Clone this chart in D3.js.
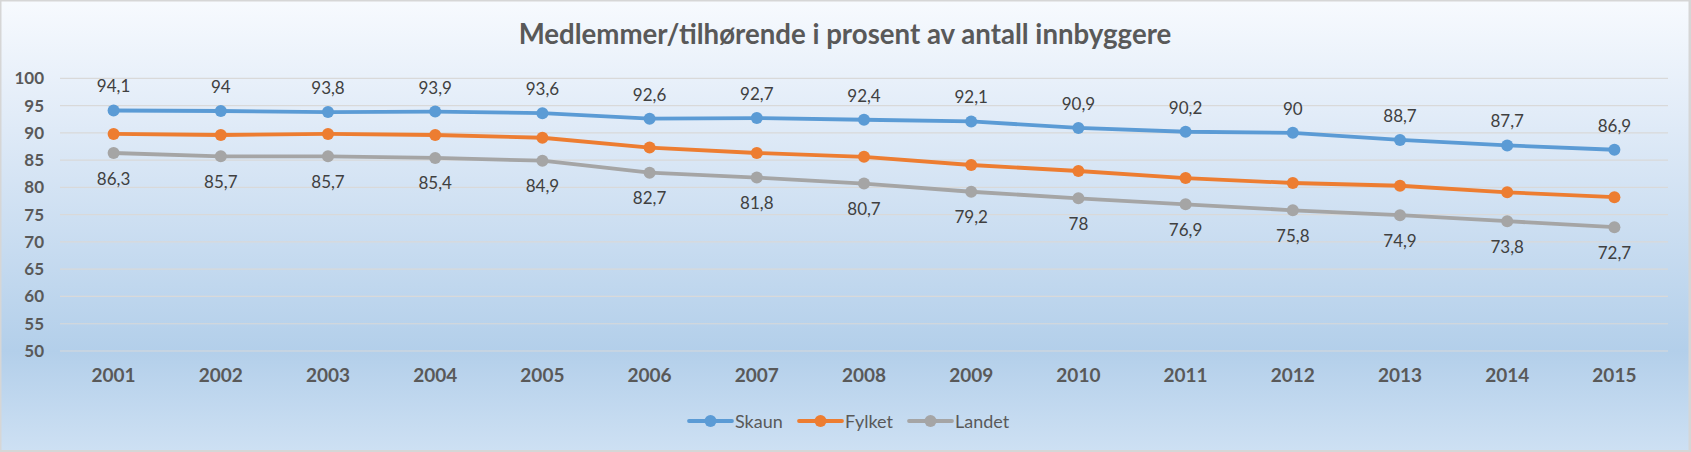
<!DOCTYPE html>
<html>
<head>
<meta charset="utf-8">
<script src="https://cdn.jsdelivr.net/npm/d3@7"></script>
<style>
  html, body { margin: 0; padding: 0; background: #d6d6d6; }
  svg { display: block; }
</style>
</head>
<body>
<svg id="chart" width="1691" height="452"></svg>
<script>
const years = ["2001","2002","2003","2004","2005","2006","2007","2008","2009","2010","2011","2012","2013","2014","2015"];
const skaun  = [94.1, 94, 93.8, 93.9, 93.6, 92.6, 92.7, 92.4, 92.1, 90.9, 90.2, 90, 88.7, 87.7, 86.9];
const fylket = [89.8, 89.6, 89.8, 89.6, 89.1, 87.3, 86.3, 85.6, 84.1, 83.0, 81.7, 80.8, 80.3, 79.1, 78.2];
const landet = [86.3, 85.7, 85.7, 85.4, 84.9, 82.7, 81.8, 80.7, 79.2, 78, 76.9, 75.8, 74.9, 73.8, 72.7];
const yTicks = [50, 55, 60, 65, 70, 75, 80, 85, 90, 95, 100];
const titleText = "Medlemmer/tilhørende i prosent av antall innbyggere";
const seriesNames = ["Skaun", "Fylket", "Landet"];
const seriesColors = ["#5b9bd5", "#ed7d31", "#a5a5a5"];

const svg = d3.select("#chart");
const W = 1691, H = 452;
const FONT = "Lato, 'Open Sans', sans-serif";

// background
const defs = svg.append("defs");
const grad = defs.append("linearGradient").attr("id", "bg").attr("x1", 0).attr("y1", 0).attr("x2", 0).attr("y2", 1);
grad.append("stop").attr("offset", "0%").attr("stop-color", "#f7fafe");
grad.append("stop").attr("offset", "25%").attr("stop-color", "#e2ecf8");
grad.append("stop").attr("offset", "78%").attr("stop-color", "#b3cfea");
grad.append("stop").attr("offset", "100%").attr("stop-color", "#cde0f3");
svg.append("rect").attr("x", 1.5).attr("y", 1.5).attr("width", 1687).attr("height", 448.5).attr("fill", "url(#bg)");

const x = d3.scaleBand().domain(years).range([60, 1668]);
const y = d3.scaleLinear().domain([50, 100]).range([351, 78.3]);
const cx = d => x(d) + x.bandwidth() / 2;

// gridlines
svg.append("g").selectAll("line").data(yTicks).join("line")
  .attr("x1", 60).attr("x2", 1668)
  .attr("y1", d => y(d)).attr("y2", d => y(d))
  .attr("stroke", "#d9d9d9").attr("stroke-width", 1.2);

// y axis
const yAxis = svg.append("g").attr("transform", "translate(60,0)")
  .call(d3.axisLeft(y).tickValues(yTicks).tickSize(0).tickPadding(16).tickFormat(d3.format("d")));
yAxis.select(".domain").remove();
yAxis.selectAll("text").attr("font-family", FONT).attr("font-weight", "bold")
  .attr("font-size", 17).attr("fill", "#595959");

// x axis
const xAxis = svg.append("g").attr("transform", "translate(0,351)")
  .call(d3.axisBottom(x).tickSize(0).tickPadding(18));
xAxis.select(".domain").remove();
xAxis.selectAll("text").attr("font-family", FONT).attr("font-weight", "bold")
  .attr("font-size", 19).attr("fill", "#595959");

// title
const title = svg.append("text").attr("x", 845).attr("y", 44).attr("text-anchor", "middle")
  .attr("font-family", FONT).attr("font-weight", "bold").attr("font-size", 26)
  .attr("fill", "#595959").text(titleText);
const tw = title.node().getComputedTextLength();
title.attr("font-size", 26 * 653 / tw);

// series
const allSeries = [skaun, fylket, landet];
const line = d3.line().x((d, i) => cx(years[i])).y(d => y(d));
allSeries.forEach((vals, si) => {
  svg.append("path").datum(vals).attr("d", line).attr("fill", "none")
    .attr("stroke", seriesColors[si]).attr("stroke-width", 3.8).attr("stroke-linejoin", "round");
  svg.append("g").selectAll("circle").data(vals).join("circle")
    .attr("cx", (d, i) => cx(years[i])).attr("cy", d => y(d)).attr("r", 6)
    .attr("fill", seriesColors[si]);
});

const fmt = v => String(v).replace(".", ",");
// labels Skaun (above)
svg.append("g").selectAll("text").data(skaun).join("text")
  .attr("x", (d, i) => cx(years[i])).attr("y", d => y(d) - 18)
  .attr("text-anchor", "middle").attr("font-family", FONT).attr("font-size", 17)
  .attr("fill", "#404040").text(fmt);
// labels Landet (below)
svg.append("g").selectAll("text").data(landet).join("text")
  .attr("x", (d, i) => cx(years[i])).attr("y", d => y(d) + 31.5)
  .attr("text-anchor", "middle").attr("font-family", FONT).attr("font-size", 17)
  .attr("fill", "#404040").text(fmt);

// legend
const legendX = [689, 799, 909];
const legY = 421;
const leg = svg.append("g");
seriesNames.forEach((name, i) => {
  const lx = legendX[i];
  leg.append("line").attr("x1", lx).attr("x2", lx + 43).attr("y1", legY).attr("y2", legY)
    .attr("stroke", seriesColors[i]).attr("stroke-width", 3.8).attr("stroke-linecap", "round");
  leg.append("circle").attr("cx", lx + 21.5).attr("cy", legY).attr("r", 6).attr("fill", seriesColors[i]);
  leg.append("text").attr("x", lx + 46).attr("y", legY).attr("dominant-baseline", "central")
    .attr("font-family", FONT).attr("font-size", 18).attr("fill", "#595959").text(name);
});
</script>
</body>
</html>
